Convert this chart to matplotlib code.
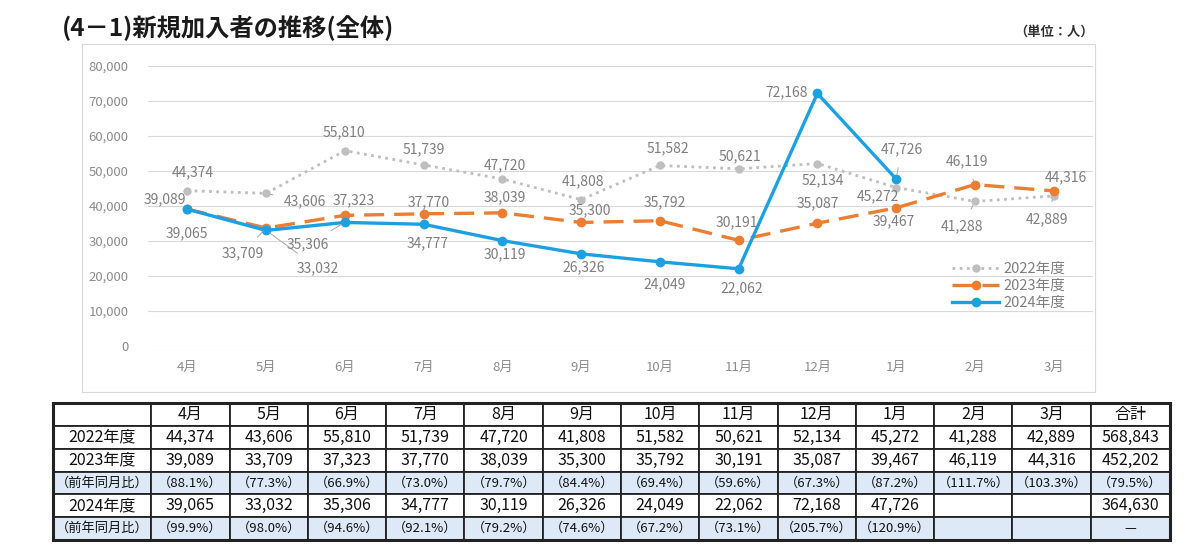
import numpy as np
import matplotlib
matplotlib.use('Agg')
import matplotlib.pyplot as plt
from matplotlib.patches import Rectangle

plt.rcParams['font.family'] = ['Noto Sans CJK JP', 'DejaVu Sans']

# data
months = ['4月', '5月', '6月', '7月', '8月', '9月', '10月', '11月', '12月', '1月', '2月', '3月']
fy2022 = [44374, 43606, 55810, 51739, 47720, 41808, 51582, 50621, 52134, 45272, 41288, 42889]
fy2023 = [39089, 33709, 37323, 37770, 38039, 35300, 35792, 30191, 35087, 39467, 46119, 44316]
fy2024 = [39065, 33032, 35306, 34777, 30119, 26326, 24049, 22062, 72168, 47726]
totals = [568843, 452202, 364630]
ratio2023 = ['88.1%', '77.3%', '66.9%', '73.0%', '79.7%', '84.4%', '69.4%', '59.6%', '67.3%', '87.2%', '111.7%', '103.3%', '79.5%']
ratio2024 = ['99.9%', '98.0%', '94.6%', '92.1%', '79.2%', '74.6%', '67.2%', '73.1%', '205.7%', '120.9%']
series_names = ['2022年度', '2023年度', '2024年度']

# label offsets in points (dx, dy) and which labels get a leader line
off2022 = [(4, 13), (28, -6), (-1, 13), (0, 11.5), (2, 9.5), (1, 13.5), (6, 12), (1, 9),
           (4, -12), (-13, -6), (-9, -18), (-5, -17)]
off2023 = [(-16, 7), (-17, -18), (6, 11), (3.5, 8.5), (2, 11), (6.5, 9), (3.5, 13.5), (-1.5, 13),
           (0.5, 14.5), (-2, -10), (-6, 16.5), (9, 9.5)]
off2024 = [(0, -17), (37, -27), (-27, -16), (3, -13.5), (2, -10), (1.5, -9.5), (3.5, -16.5),
           (2, -14), (-22, 1), (4, 21)]
lead2022 = {1, 10, 11}
lead2023 = {1, 10}
lead2024 = {1, 2, 9}

c22 = '#bfbfbf'
c23 = '#ed7d31'
c24 = '#1ba1e2'
lblc = '#7f7f7f'

fig = plt.figure(figsize=(12, 5.56), dpi=100)

# chart frame
fig.patches.append(Rectangle((82 / 1200, 1 - 392 / 556), 1013 / 1200, 348 / 556,
                             transform=fig.transFigure, fill=False, edgecolor='#d9d9d9', lw=0.8))

ax = fig.add_axes([148 / 1200, 1 - 346 / 556, 945 / 1200, 280 / 556])
x = np.arange(len(months))

ax.plot(x, fy2022, linestyle=(0, (1, 1.6)), lw=2, color=c22, marker='o', ms=5, label=series_names[0])
ax.plot(x, fy2023, linestyle=(0, (6, 3)), lw=2.4, color=c23, marker='o', ms=6, label=series_names[1])
ax.plot(x[:len(fy2024)], fy2024, linestyle='-', lw=2.4, color=c24, marker='o', ms=6, label=series_names[2])


def put_labels(vals, offs, leads):
    for i, v in enumerate(vals):
        kw = {}
        if i in leads:
            kw['arrowprops'] = dict(arrowstyle='-', color='#a6a6a6', lw=0.7, shrinkA=6, shrinkB=3)
        ax.annotate(f'{v:,}', (x[i], v), xytext=offs[i], textcoords='offset points',
                    ha='center', va='center', fontsize=10, color=lblc, **kw)


put_labels(fy2022, off2022, lead2022)
put_labels(fy2023, off2023, lead2023)
put_labels(fy2024, off2024, lead2024)

ax.set_xlim(-0.5, len(months) - 0.5)
ax.set_ylim(0, 80000)
ax.set_yticks(np.arange(0, 80001, 10000))
ax.yaxis.set_major_formatter(matplotlib.ticker.FuncFormatter(lambda v, p: f'{int(v):,}'))
ax.set_xticks(x)
ax.set_xticklabels(months)
ax.tick_params(axis='both', length=0, colors='#8c8c8c', labelsize=9.5)
ax.tick_params(axis='y', pad=14)
ax.tick_params(axis='x', pad=11)
ax.grid(axis='y', color='#d9d9d9', lw=0.8)
ax.set_axisbelow(True)
for s in ax.spines.values():
    s.set_visible(False)
ax.patch.set_alpha(0)

leg = ax.legend(loc='upper left', bbox_to_anchor=(945 / 1200, 1 - 255 / 556),
                bbox_transform=fig.transFigure, frameon=False, fontsize=10.5, labelcolor='#7f7f7f',
                handlelength=3.2, handletextpad=0.3, labelspacing=0.2, borderpad=0)

fig.text(62 / 1200, 1 - 28 / 556, '(4－1)新規加入者の推移(全体)', fontsize=17.5, fontweight='bold',
         ha='left', va='center', color='#1a1a1a')
fig.text(1094 / 1200, 1 - 32 / 556, '（単位：人）', fontsize=9.5, fontweight='bold',
         ha='right', va='center', color='#333333')

# table
tax = fig.add_axes([53 / 1200, 1 - 540 / 556, 1117 / 1200, 137 / 556])
tax.axis('off')

header = [''] + months + ['合計']
row22 = ['2022年度'] + [f'{v:,}' for v in fy2022] + [f'{totals[0]:,}']
row23 = ['2023年度'] + [f'{v:,}' for v in fy2023] + [f'{totals[1]:,}']
rat23 = ['（前年同月比）'] + [f'（{r}）' for r in ratio2023]
row24 = ['2024年度'] + [f'{v:,}' for v in fy2024] + [''] * (len(months) - len(fy2024)) + [f'{totals[2]:,}']
rat24 = ['（前年同月比）'] + [f'（{r}）' for r in ratio2024] + [''] * (len(months) - len(ratio2024)) + ['—']
cells = [header, row22, row23, rat23, row24, rat24]

colw = [98] + [78] * 12 + [79]
colw = [w / sum(colw) for w in colw]
tbl = tax.table(cellText=cells, colWidths=colw, bbox=[0, 0, 1, 1], cellLoc='center')
tbl.auto_set_font_size(False)
for (r, c), cell in tbl.get_celld().items():
    cell.set_edgecolor('#222222')
    cell.set_linewidth(1.3)
    txt = cell.get_text()
    txt.set_color('#111111')
    if r in (3, 5):
        cell.set_facecolor('#dde9f6')
        txt.set_fontsize(9.5)
    else:
        cell.set_facecolor('white')
        txt.set_fontsize(11.5)
tax.add_patch(Rectangle((0, 0), 1, 1, transform=tax.transAxes, fill=False, edgecolor='#222222',
                        lw=2.2, zorder=10, clip_on=False))

fig.savefig('out.png', dpi=100, facecolor='white')
